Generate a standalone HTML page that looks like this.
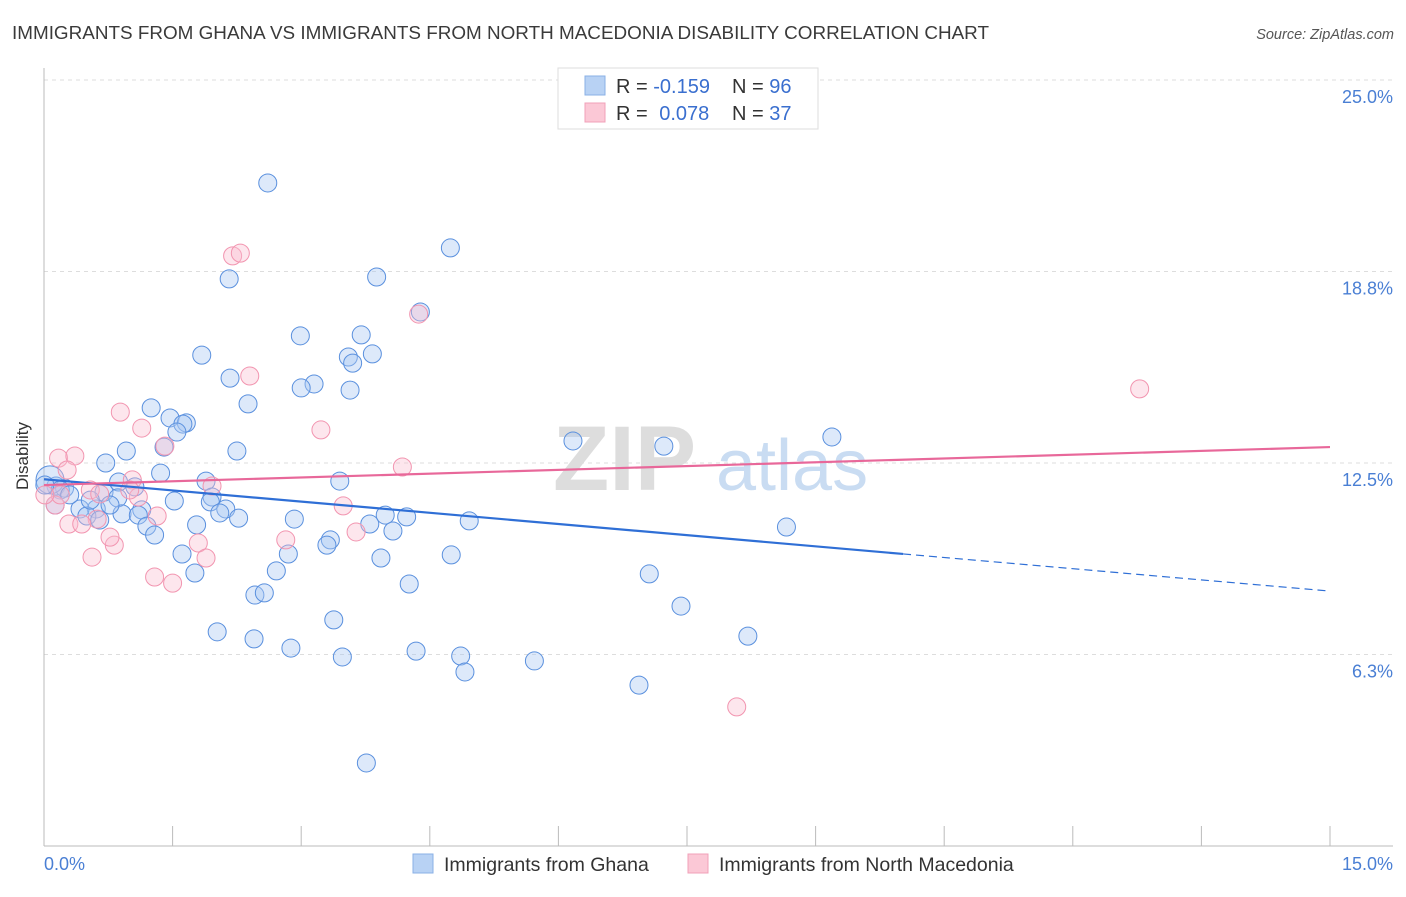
<!DOCTYPE html>
<html><head><meta charset="utf-8"><style>
body{margin:0;background:#fff;font-family:"Liberation Sans",sans-serif;}
svg text{font-family:"Liberation Sans",sans-serif;}
</style></head><body>
<svg id="chart" width="1406" height="892" xmlns="http://www.w3.org/2000/svg">
<text x="12" y="39" font-size="18" textLength="977" lengthAdjust="spacingAndGlyphs" fill="#3a3a3a">IMMIGRANTS FROM GHANA VS IMMIGRANTS FROM NORTH MACEDONIA DISABILITY CORRELATION CHART</text>
<text x="1394" y="39" font-size="14.5" fill="#555" font-style="italic" text-anchor="end">Source: ZipAtlas.com</text>
<g>
<text x="553" y="490" font-size="92" fill="#ddd" font-family="Liberation Serif" font-weight="bold">ZIP</text>
<text x="716" y="490" font-size="72" fill="#c9dcf2">atlas</text>
</g>
<g id="grid"></g>
<g id="axes"></g>
<g id="pts"></g>
<g id="trend"></g>
<text x="28" y="456" font-size="17" fill="#333" text-anchor="middle" transform="rotate(-90 28 456)">Disability</text>
<g>
<rect x="558" y="68" width="260" height="61" fill="#fff" stroke="#ddd"/>
<rect x="585" y="76" width="20" height="19" fill="#b8d2f4" stroke="#8ab0e6"/>
<rect x="585" y="103" width="20" height="19" fill="#fbc8d6" stroke="#f0a0b8"/>
<text x="616" y="93" font-size="20" fill="#333">R = <tspan fill="#3a6fcf">-0.159</tspan></text>
<text x="732" y="93" font-size="20" fill="#333">N = <tspan fill="#3a6fcf">96</tspan></text>
<text x="616" y="120" font-size="20" fill="#333">R = <tspan fill="#3a6fcf" dx="6">0.078</tspan></text>
<text x="732" y="120" font-size="20" fill="#333">N = <tspan fill="#3a6fcf">37</tspan></text>
</g>
<g>
<rect x="413" y="854" width="20" height="19" fill="#b8d2f4" stroke="#8ab0e6"/>
<text x="444" y="871" font-size="19.5" fill="#333">Immigrants from Ghana</text>
<rect x="688" y="854" width="20" height="19" fill="#fbc8d6" stroke="#f0a0b8"/>
<text x="719" y="871" font-size="19.5" fill="#333">Immigrants from North Macedonia</text>
</g>
</svg>
<script>
const yTicks=[25.0,18.75,12.5,6.25];
const yTickLabels=["25.0%","18.8%","12.5%","6.3%"];
const xTickLabels=["0.0%","15.0%"];
const ghanaX=[2.61,4.74,2.16,3.88,4.39,2.99,3.70,1.84,3.83,3.55,3.60,2.17,3.15,3.00,3.57,2.38,1.25,1.47,1.66,1.62,1.55,1.40,2.25,0.96,6.17,7.23,9.19,0.72,1.36,3.45,1.89,0.14,0.24,0.70,0.87,1.06,1.96,0.86,1.94,1.52,1.14,2.12,2.05,0.61,0.42,0.50,0.91,1.10,1.20,1.29,2.27,2.92,3.80,3.98,4.23,4.96,4.07,1.78,3.34,3.30,8.66,1.61,2.85,3.93,4.75,2.71,1.76,4.26,7.06,2.46,2.57,7.43,3.38,2.02,2.45,8.21,2.88,4.34,3.48,4.86,5.72,4.91,6.94,3.76,0.07,0.19,0.30,0.54,0.77,0.65,0.01,0.13];
const ghanaY=[21.64,19.52,18.51,18.57,17.43,16.65,16.68,16.02,16.06,15.96,15.76,15.27,15.08,14.95,14.88,14.43,14.30,13.97,13.81,13.77,13.51,13.02,12.89,12.89,13.22,13.05,13.35,12.50,12.17,11.91,11.91,11.75,11.68,11.55,11.88,11.72,11.39,11.36,11.23,11.26,10.97,11.00,10.87,11.00,11.00,10.77,10.84,10.80,10.44,10.15,10.70,10.67,10.51,10.80,10.74,10.61,10.28,10.48,9.99,9.82,10.41,9.53,9.53,9.40,9.50,8.98,8.91,8.55,8.88,8.19,8.26,7.83,7.38,6.99,6.76,6.85,6.46,6.36,6.17,6.20,6.04,5.68,5.25,2.71,11.95,11.62,11.46,11.29,11.13,10.64,11.78,11.13];
const macX=[2.20,2.29,4.37,2.40,0.89,3.23,1.14,1.41,0.17,0.36,4.18,1.03,1.96,0.54,1.10,3.49,0.13,1.32,0.62,0.29,0.44,3.64,2.82,1.80,0.82,0.77,0.56,1.89,1.29,1.50,12.78,8.08,1.00,0.19,0.65,0.01,0.27];
const macY=[19.26,19.35,17.36,15.34,14.16,13.58,13.64,13.05,12.66,12.73,12.37,11.95,11.75,11.62,11.39,11.10,11.13,10.77,10.67,10.51,10.51,10.25,9.99,9.89,9.82,10.08,9.43,9.40,8.78,8.58,14.92,4.54,11.62,11.46,11.49,11.46,12.27];
const ghanaTrend=[11.97,8.32]; const ghanaSolidEnd=10.02;
const macTrend=[11.78,13.02];
const NS="http://www.w3.org/2000/svg";
const xs=v=>44+v*85.733, ys=v=>463-(v-12.5)*30.64;
function mk(t,a,p){const e=document.createElementNS(NS,t);for(const k in a)e.setAttribute(k,a[k]);p.appendChild(e);return e;}
const grid=document.getElementById('grid'),axes=document.getElementById('axes'),pts=document.getElementById('pts'),tr=document.getElementById('trend');
yTicks.forEach((v,i)=>{
 const l=mk('line',{x1:44,x2:1393,y1:ys(v),y2:ys(v),stroke:'#ddd','stroke-dasharray':'4 4'},grid);
 
 
 const t=mk('text',{x:1393,y:ys(v)+23,'font-size':18,fill:'#4a7fd4','text-anchor':'end'},axes);
 t.textContent=yTickLabels[i];
 
 
});
const ax=mk('line',{x1:44,x2:44,y1:68,y2:846,stroke:'#bbb'},axes);


const bx=mk('line',{x1:44,x2:1393,y1:846,y2:846,stroke:'#bbb'},axes);


for(let i=0;i<=10;i++){const tk=mk('line',{x1:xs(i*1.5),x2:xs(i*1.5),y1:826,y2:846,stroke:'#bbb'},axes);
 
 }
[[0,'start',44],[15,'end',1393]].forEach((o,i)=>{const t=mk('text',{x:o[2],y:870,'font-size':18,fill:'#4a7fd4','text-anchor':o[1]},axes);t.textContent=xTickLabels[i];
 
 });
ghanaX.forEach((x,i)=>{const c=mk('circle',{cx:xs(x),cy:ys(ghanaY[i]),r:(i==84?14:9),fill:'rgba(170,200,242,0.4)',stroke:'#5a90de','stroke-width':1},pts);
 
 });
macX.forEach((x,i)=>{const c=mk('circle',{cx:xs(x),cy:ys(macY[i]),r:9,fill:'rgba(250,190,208,0.38)',stroke:'#f295b0','stroke-width':1},pts);
 
 });
const gy=x=>ghanaTrend[0]+(ghanaTrend[1]-ghanaTrend[0])*x/15;
const g1=mk('line',{x1:xs(0),y1:ys(gy(0)),x2:xs(ghanaSolidEnd),y2:ys(gy(ghanaSolidEnd)),stroke:'#2f6fd6','stroke-width':2.2},tr);


const g2=mk('line',{x1:xs(ghanaSolidEnd),y1:ys(gy(ghanaSolidEnd)),x2:xs(15),y2:ys(gy(15)),stroke:'#2f6fd6','stroke-width':1.2,'stroke-dasharray':'8 5'},tr);


const m1=mk('line',{x1:xs(0),y1:ys(macTrend[0]),x2:xs(15),y2:ys(macTrend[1]),stroke:'#e8689a','stroke-width':2.2},tr);


</script>
</body></html>
